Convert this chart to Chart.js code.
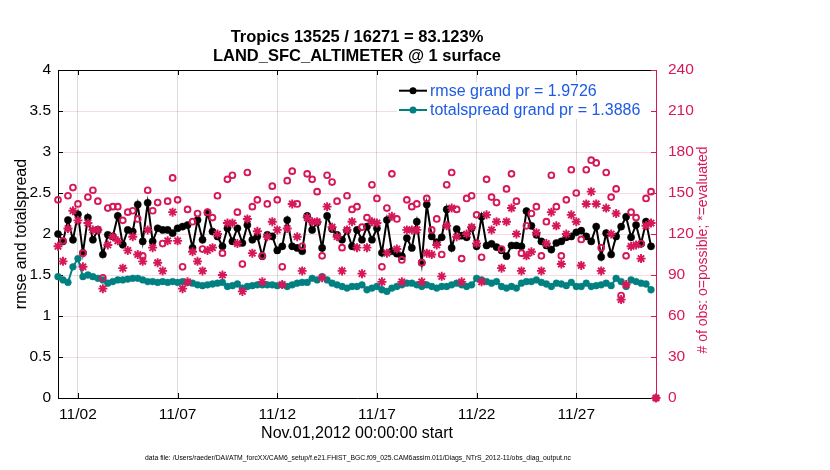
<!DOCTYPE html>
<html>
<head>
<meta charset="utf-8">
<script src="https://cdn.jsdelivr.net/npm/chart.js@4.4.1/dist/chart.umd.min.js"></script>
<style>
html,body{margin:0;padding:0;background:#fff;}
#wrap{width:830px;height:470px;position:relative;}
</style>
</head>
<body>
<div id="wrap"><canvas id="c" width="830" height="470"></canvas></div>
<script>
// ---------- text ----------
const titleLines = ['Tropics 13525 / 16271 = 83.123%', 'LAND_SFC_ALTIMETER @ 1 surface'];
const xTitle = 'Nov.01,2012 00:00:00 start';
const yLeftTitle = 'rmse and totalspread';
const yRightTitle = '# of obs: o=possible; *=evaluated';
const footText = 'data file: /Users/raeder/DAI/ATM_forcXX/CAM6_setup/f.e21.FHIST_BGC.f09_025.CAM6assim.011/Diags_NTrS_2012-11/obs_diag_output.nc';
const legendLabels = ['rmse grand pr = 1.9726', 'totalspread grand pr = 1.3886'];

// ---------- axes ----------
const tickDays = [1, 6, 11, 16, 21, 26];          // days since Nov 01 00:00
const tickLabels = ['11/02', '11/07', '11/12', '11/17', '11/22', '11/27'];
const binHours = 6;                                // 6-hourly bins, Nov 01 00Z .. Dec 01 00Z

// ---------- series (one value per 6-hour bin) ----------
const rmse = [
  2.00, 1.91, 2.17, 1.93, 2.24, 1.77, 2.20, 1.93, 2.05, 1.75, 1.99, 1.97, 2.22, 1.87, 2.05,
  2.03, 2.36, 1.91, 2.38, 1.91, 2.07, 2.05, 2.05, 2.01, 2.07, 2.09, 2.11, 1.83, 2.17, 1.93,
  2.26, 2.03, 1.97, 1.85, 2.07, 1.91, 2.07, 1.89, 2.11, 1.93, 1.97, 1.73, 1.99, 1.97, 1.80,
  1.85, 2.17, 1.85, 1.83, 1.79, 2.22, 2.05, 2.14, 1.83, 2.22, 2.06, 1.99, 1.93, 2.04, 1.85,
  2.05, 1.93, 2.09, 1.93, 2.07, 1.77, 2.17, 1.79, 1.76, 1.73, 1.95, 1.83, 2.15, 1.65, 2.36,
  1.97, 1.90, 1.96, 2.30, 1.83, 2.06, 1.98, 1.96, 2.07, 1.85, 2.21, 1.86, 1.88, 1.84, 1.80,
  1.73, 1.86, 1.86, 1.85, 2.28, 2.10, 1.99, 1.91, 1.86, 1.81, 1.89, 1.91, 1.96, 1.97, 2.02,
  2.04, 1.97, 1.91, 2.09, 1.72, 2.01, 1.75, 1.97, 2.09, 2.21, 1.96, 2.11, 1.88, 2.15, 1.85, null
];
const totalspread = [
  1.48, 1.44, 1.41, 1.60, 1.70, 1.48, 1.50, 1.48, 1.46, 1.44, 1.40, 1.42, 1.44, 1.44, 1.45,
  1.46, 1.46, 1.44, 1.42, 1.42, 1.41, 1.42, 1.41, 1.42, 1.41, 1.42, 1.41, 1.40, 1.38, 1.37,
  1.38, 1.39, 1.40, 1.41, 1.36, 1.37, 1.39, 1.34, 1.36, 1.37, 1.38, 1.38, 1.38, 1.38, 1.37,
  1.38, 1.36, 1.38, 1.40, 1.41, 1.41, 1.46, 1.44, 1.48, 1.44, 1.40, 1.38, 1.36, 1.34, 1.36,
  1.36, 1.38, 1.32, 1.34, 1.36, 1.32, 1.30, 1.34, 1.36, 1.38, 1.40, 1.40, 1.38, 1.36, 1.38,
  1.36, 1.34, 1.36, 1.36, 1.38, 1.40, 1.38, 1.36, 1.38, 1.46, 1.44, 1.42, 1.40, 1.42, 1.36,
  1.34, 1.36, 1.34, 1.40, 1.42, 1.42, 1.44, 1.41, 1.39, 1.36, 1.40, 1.39, 1.37, 1.41, 1.36,
  1.36, 1.40, 1.36, 1.37, 1.38, 1.40, 1.37, 1.46, 1.42, 1.36, 1.44, 1.42, 1.40, 1.39, 1.32, null
];
const obsPossible = [
  145, 115, 148, 154, 142, 106, 147, 152, 144,  88, 139, 140, 140, 130, 136,
  137, 131, 104, 152, 137, 143, 113, 144, 161, 145,  96, 138, 129, 135, 109,
  136, 132, 148, 106, 160, 163, 136,  98, 165, 140, 145, 104, 142, 155, 145,
   96, 159, 166, 142, 111, 164, 160, 151, 104, 163, 158, 144, 110, 148, 138,
  140, 125, 132, 156, 146,  96, 139, 164, 131, 101, 145, 140, 142,  99, 146,
  123, 131, 105, 156, 165, 138, 102, 146, 148, 134, 103, 160, 147, 143, 109,
  153, 164, 144, 106, 126, 135, 140, 104, 129, 163, 140, 104, 145, 167, 150,
  116, 167, 174, 172, 110, 165, 147, 153,  75, 104, 136, 132, 113, 146, 151, 0
];
const obsEvaluated = [
  111, 100, 124, 137, 130,  96, 128, 123, 123,  80, 112, 118, 115,  95, 108,
  118, 105, 100, 123, 110,  99,  93, 115, 136, 115,  80,  85, 107, 100,  93,
  108, 110, 120,  90, 128, 128, 113,  78, 131, 106, 122,  85, 118, 129, 123,
   83, 124, 142, 118,  93, 132, 129, 129,  88, 140, 125, 118,  93, 123, 129,
  110,  91, 110, 129, 128,  85, 106, 133, 109,  85, 123, 123, 123,  85, 106,
  105, 112,  89, 126, 139, 118,  85, 120, 125, 113,  85, 134, 123, 129,  95,
  129, 139, 120,  93, 104, 107, 121,  93, 113, 136, 126,  98, 120, 134, 129,
   97, 142, 151, 142,  93, 139, 120, 135,  72,  83, 111, 112, 102, 126, 128, 0
];

// ---------- styles ----------
const FONT = "'Liberation Sans', Arial, Helvetica, sans-serif";
const CRIMSON = '#d6175a';
const TEAL = '#008080';
const LEGEND_TEXT = '#1e5ae6';

const binDay = (i) => i * binHours / 24;
const toXY = (arr) => arr.map((v, i) => ({x: binDay(i), y: v}));

Chart.defaults.font.family = FONT;
Chart.defaults.color = '#000';

const decor = {
  id: 'decor',
  beforeDatasetsDraw(chart) {
    const {ctx, chartArea: a, scales} = chart;
    const L = 5;
    ctx.save();
    ctx.lineWidth = 1;
    ctx.strokeStyle = '#000';
    ctx.beginPath();
    ctx.moveTo(a.left, Math.round(a.top) + 0.5);
    ctx.lineTo(a.right, Math.round(a.top) + 0.5);
    scales.x.ticks.forEach(t => {
      const px = Math.round(scales.x.getPixelForValue(t.value)) + 0.5;
      ctx.moveTo(px, a.bottom); ctx.lineTo(px, a.bottom - L);
      ctx.moveTo(px, a.top); ctx.lineTo(px, a.top + L);
    });
    scales.y.ticks.forEach(t => {
      const py = Math.round(scales.y.getPixelForValue(t.value)) + 0.5;
      ctx.moveTo(a.left, py); ctx.lineTo(a.left + L, py);
    });
    ctx.stroke();
    ctx.strokeStyle = CRIMSON;
    ctx.beginPath();
    scales.y1.ticks.forEach(t => {
      const py = Math.round(scales.y1.getPixelForValue(t.value)) + 0.5;
      ctx.moveTo(a.right, py); ctx.lineTo(a.right - L, py);
    });
    ctx.stroke();
    ctx.restore();
  },
  afterDraw(chart) {
    const {ctx} = chart;
    ctx.save();
    // right axis title (reads bottom to top)
    ctx.fillStyle = CRIMSON;
    ctx.font = '14px ' + FONT;
    ctx.textAlign = 'center';
    ctx.textBaseline = 'middle';
    ctx.translate(703, 250);
    ctx.rotate(-Math.PI / 2);
    ctx.fillText(yRightTitle, 0, 0);
    ctx.restore();

    // legend
    ctx.save();
    const lx = 397, ly = 82, lw = 254, lh = 37;
    ctx.fillStyle = '#fff';
    ctx.fillRect(lx, ly, lw, lh);
    const rows = [{c: '#000', y: 90.7}, {c: TEAL, y: 110}];
    rows.forEach((r, k) => {
      ctx.strokeStyle = r.c; ctx.lineWidth = 2;
      ctx.beginPath(); ctx.moveTo(399, r.y); ctx.lineTo(427, r.y); ctx.stroke();
      ctx.fillStyle = r.c;
      ctx.beginPath(); ctx.arc(413, r.y, 3.5, 0, Math.PI * 2); ctx.fill();
      ctx.fillStyle = LEGEND_TEXT;
      ctx.font = '16px ' + FONT;
      ctx.textAlign = 'left';
      ctx.textBaseline = 'middle';
      ctx.fillText(legendLabels[k], 430, r.y + 1);
    });
    ctx.restore();

    // footer
    ctx.save();
    ctx.fillStyle = '#000';
    ctx.font = '6.8px ' + FONT;
    ctx.textAlign = 'center';
    ctx.textBaseline = 'middle';
    ctx.fillText(footText, 358, 458);
    ctx.restore();
  }
};

new Chart(document.getElementById('c'), {
  type: 'line',
  data: {
    datasets: [
      {
        label: legendLabels[0], data: toXY(rmse), yAxisID: 'y', order: 4,
        borderColor: '#000', backgroundColor: '#000', borderWidth: 2,
        pointRadius: 3.6, pointBorderWidth: 0.5, pointBackgroundColor: '#000', pointBorderColor: '#000',
        tension: 0, clip: false
      },
      {
        label: legendLabels[1], data: toXY(totalspread), yAxisID: 'y', order: 3,
        borderColor: TEAL, backgroundColor: TEAL, borderWidth: 2,
        pointRadius: 3.4, pointBorderWidth: 0.5, pointBackgroundColor: TEAL, pointBorderColor: TEAL,
        tension: 0, clip: false
      },
      {
        label: 'possible', data: toXY(obsPossible), yAxisID: 'y1', order: 2,
        showLine: false, pointStyle: 'circle', pointRadius: 2.9, pointBorderWidth: 1.9,
        pointBackgroundColor: 'rgba(0,0,0,0)', pointBorderColor: CRIMSON, borderColor: CRIMSON, clip: false
      },
      {
        label: 'evaluated', data: toXY(obsEvaluated), yAxisID: 'y1', order: 1,
        showLine: false, pointStyle: 'star', pointRadius: 4.5, pointBorderWidth: 1.9,
        pointBackgroundColor: CRIMSON, pointBorderColor: CRIMSON, borderColor: CRIMSON, clip: false
      }
    ]
  },
  options: {
    responsive: false,
    animation: false,
    devicePixelRatio: 1,
    events: [],
    layout: {padding: 0},
    plugins: {
      legend: {display: false},
      tooltip: {enabled: false},
      title: {
        display: true, fullSize: false, text: titleLines, color: '#000',
        font: {family: FONT, size: 16.5, weight: 'bold', lineHeight: 1.15},
        padding: {top: 27.5, bottom: 4.55}
      }
    },
    scales: {
      x: {
        type: 'linear', min: 0, max: 30,
        afterFit(s) { s.height = 72; },
        afterBuildTicks(s) { s.ticks = tickDays.map(v => ({value: v})); },
        ticks: {
          autoSkip: false, maxRotation: 0, padding: 7, color: '#000',
          font: {size: 15.5},
          callback: (v) => tickLabels[tickDays.indexOf(v)]
        },
        grid: {color: 'rgba(0,0,0,0.14)', drawTicks: false, lineWidth: 1},
        border: {display: true, color: '#000', width: 1},
        title: {display: true, text: xTitle, color: '#000', font: {size: 16}, padding: {top: 0, bottom: 26.4}}
      },
      y: {
        type: 'linear', position: 'left', min: 0, max: 4,
        afterFit(s) { s.width = 58; },
        ticks: {stepSize: 0.5, padding: 7, color: '#000', font: {size: 15.5}, callback: (v) => String(v)},
        grid: {display: false, drawTicks: false},
        border: {display: true, color: '#000', width: 1},
        title: {display: true, text: yLeftTitle, color: '#000', font: {size: 16}, padding: {top: 12.4, bottom: 0}}
      },
      y1: {
        type: 'linear', position: 'right', min: 0, max: 240,
        afterFit(s) { s.width = 174; },
        ticks: {stepSize: 30, padding: 12, color: CRIMSON, font: {size: 15.5}},
        grid: {color: 'rgba(214,23,90,0.16)', drawTicks: false, lineWidth: 1},
        border: {display: true, color: CRIMSON, width: 1}
      }
    }
  },
  plugins: [decor]
});
</script>
</body>
</html>
